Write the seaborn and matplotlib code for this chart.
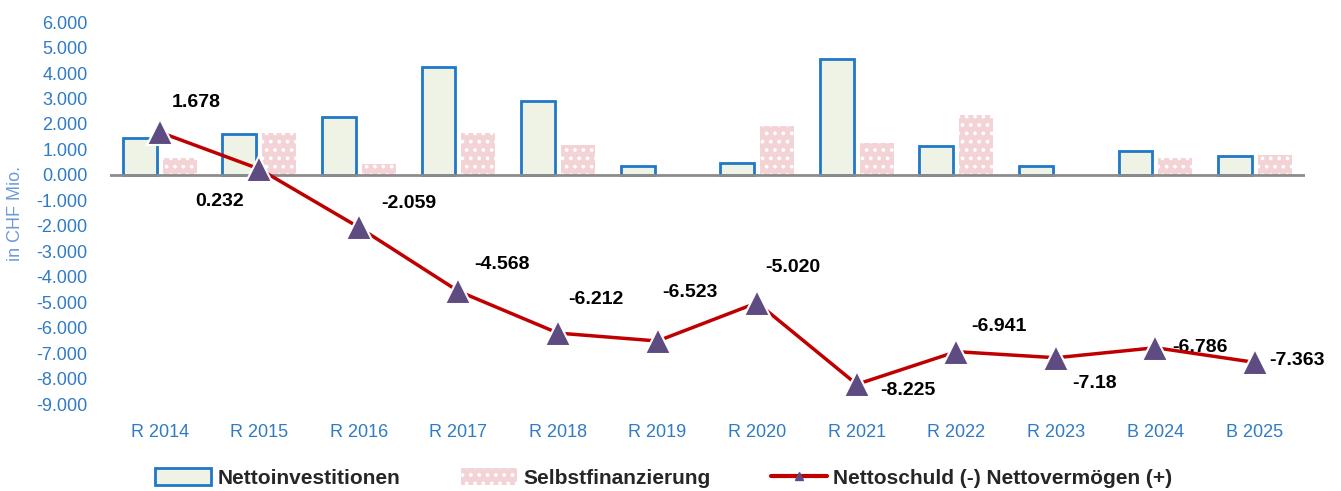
import numpy as np
import pandas as pd
import matplotlib
matplotlib.use("Agg")
import matplotlib.pyplot as plt
from matplotlib.patches import Patch
from matplotlib.lines import Line2D
import seaborn as sns

years = ["R 2014", "R 2015", "R 2016", "R 2017", "R 2018", "R 2019",
         "R 2020", "R 2021", "R 2022", "R 2023", "B 2024", "B 2025"]
nettoinvest = [1.45, 1.60, 2.27, 4.23, 2.90, 0.35, 0.47, 4.55, 1.14, 0.35, 0.94, 0.75]
selbstfin = [0.67, 1.65, 0.43, 1.65, 1.18, 0.0, 1.92, 1.25, 2.35, -0.05, 0.67, 0.78]
nettoschuld = [1.678, 0.232, -2.059, -4.568, -6.212, -6.523, -5.020, -8.225,
               -6.941, -7.18, -6.786, -7.363]
point_labels = ["1.678", "0.232", "-2.059", "-4.568", "-6.212", "-6.523", "-5.020",
                "-8.225", "-6.941", "-7.18", "-6.786", "-7.363"]
# label offsets in pixels (dx, dy), dy up
label_offsets = [(37, 30), (-40, -33), (50, 24), (44, 27), (38, 34), (32, 49),
                 (36, 35), (51, -6), (43, 25), (39, -26), (45, 0), (42, 2)]

BLUE_TXT = "#2F7BC4"
BAR_BLUE = "#1F78C8"
LINE_RED = "#C00000"
MARKER = "#5E4B82"
FONT = ["Liberation Sans", "DejaVu Sans"]

sns.set_style("white")
plt.rcParams["font.family"] = FONT
plt.rcParams["hatch.linewidth"] = 1.5

df = pd.DataFrame({
    "Jahr": years * 2,
    "Wert": nettoinvest + selbstfin,
    "Serie": ["Nettoinvestitionen"] * 12 + ["Selbstfinanzierung"] * 12,
})

fig = plt.figure(figsize=(13.41, 4.91), dpi=100)
ax = fig.add_axes([0.082, 0.177, 0.891, 0.778])

sns.barplot(data=df, x="Jahr", y="Wert", hue="Serie", ax=ax, gap=0.15,
            palette=["#EEF3E6", "#F3D3D6"], legend=False, saturation=1)

n = len(years)
for i, patch in enumerate(ax.patches):
    if i < n:
        patch.set_edgecolor(BAR_BLUE)
        patch.set_linewidth(2)
        patch.set_facecolor("#EEF3E6")
    else:
        patch.set_facecolor("#F3D3D6")
        patch.set_edgecolor("white")
        patch.set_linewidth(0)
        patch.set_hatch("..")

ax.axhline(0, color="#8C8C8C", lw=2, zorder=2)

x = np.arange(n)
sns.lineplot(x=x, y=nettoschuld, ax=ax, color=LINE_RED, lw=2.5, zorder=4,
             marker="^", markersize=19, markerfacecolor=MARKER,
             markeredgecolor="white", markeredgewidth=1.5)

for xi, yi, lab, (dx, dy) in zip(x, nettoschuld, point_labels, label_offsets):
    ax.annotate(lab, (xi, yi), xytext=(dx * 0.72, dy * 0.72), textcoords="offset points",
                ha="center", va="center", fontsize=14, fontweight="bold", color="black")

ax.set_xlim(-0.5, n - 0.5)
ax.set_ylim(-9.0, 6.0)
ax.set_yticks(np.arange(-9, 7, 1))
ax.set_yticklabels([f"{v:.3f}" for v in np.arange(-9, 7, 1)])
ax.tick_params(axis="y", colors=BLUE_TXT, labelsize=13, length=0, pad=16)
ax.tick_params(axis="x", colors=BLUE_TXT, labelsize=13, length=0, pad=14)
ax.set_xlabel("")
ax.set_ylabel("in CHF Mio.", color="#6D9BD6", fontsize=13)
ax.yaxis.set_label_coords(-0.072, 0.5)
for s in ax.spines.values():
    s.set_visible(False)

handles = [
    Patch(facecolor="#EEF3E6", edgecolor=BAR_BLUE, lw=2),
    Patch(facecolor="#F3D3D6", edgecolor="white", lw=0, hatch=".."),
    Line2D([], [], color=LINE_RED, lw=3, marker="^", markersize=6,
           markerfacecolor=MARKER, markeredgecolor=MARKER),
]
labels = ["Nettoinvestitionen", "Selbstfinanzierung", "Nettoschuld (-) Nettovermögen (+)"]
fig.legend(handles, labels, loc="center", bbox_to_anchor=(0.495, 0.027), ncol=3,
           frameon=False, handlelength=2.7, handleheight=0.9, columnspacing=2.9,
           handletextpad=0.3, prop={"family": FONT, "weight": "bold", "size": 15})

fig.savefig("out.png", dpi=100)
